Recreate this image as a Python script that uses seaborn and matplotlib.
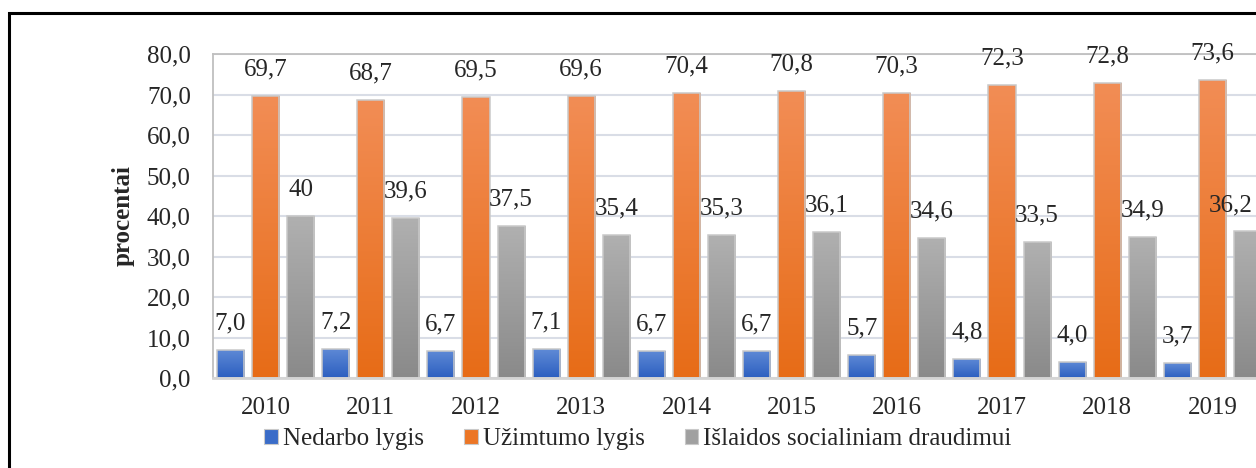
import numpy as np
import pandas as pd
import seaborn as sns
import matplotlib.pyplot as plt
from matplotlib.patches import Patch, Rectangle
from matplotlib.colors import LinearSegmentedColormap

# Data
years = ['2010', '2011', '2012', '2013', '2014', '2015', '2016', '2017', '2018', '2019']
nedarbo = [7.0, 7.2, 6.7, 7.1, 6.7, 6.7, 5.7, 4.8, 4.0, 3.7]
uzimtumo = [69.7, 68.7, 69.5, 69.6, 70.4, 70.8, 70.3, 72.3, 72.8, 73.6]
islaidos = [40, 39.6, 37.5, 35.4, 35.3, 36.1, 34.6, 33.5, 34.9, 36.2]
series = ['Nedarbo lygis', 'Užimtumo lygis', 'Išlaidos socialiniam draudimui']

df = pd.DataFrame({'Metai': years * 3,
                   'Reikšmė': nedarbo + uzimtumo + islaidos,
                   'Rodiklis': [s for s in series for _ in years]})

sns.set_style("white")
plt.rcParams['font.family'] = ['Liberation Serif', 'DejaVu Serif']

# gradient (top, bottom) and legend colours per series
grads = [('#5f8ad6', '#2c5fc0'), ('#f28d55', '#e76c17'), ('#b0b0b0', '#8a8a8a')]
solid = ['#3a6cc8', '#ec7626', '#a0a0a0']
fs = 18

fig = plt.figure(figsize=(12.56, 4.68), dpi=100)
ax = fig.add_axes([213 / 1256, 90 / 468, (1265 - 213) / 1256, 324 / 468])

sns.barplot(data=df, x='Metai', y='Reikšmė', hue='Rodiklis', hue_order=series,
            palette=solid, width=1.0, gap=0.23, legend=False, ax=ax,
            edgecolor='#c9c9c9', linewidth=1.1, zorder=2)

ax.set_xlim(-0.5, 9.5)
ax.set_ylim(0, 80)
ax.set_yticks(np.arange(0, 81, 10))
ax.set_yticklabels([f'{v:.1f}'.replace('.', ',') for v in np.arange(0, 81, 10)])
ax.set_xticks(range(len(years)))
ax.set_xticklabels(years)
ax.tick_params(axis='both', labelsize=fs, length=0)
ax.tick_params(axis='y', pad=16)
ax.tick_params(axis='x', pad=14)
ax.set_xlabel('')
ax.set_ylabel('procentai', fontsize=fs, fontweight='bold', labelpad=9)

ax.set_axisbelow(True)
ax.yaxis.grid(True, color='#d9dde6', linewidth=1.5, zorder=0)
for side in ['top', 'left']:
    ax.spines[side].set_color('#bfbfbf')
    ax.spines[side].set_linewidth(1.3)
ax.spines['bottom'].set_color('#d4d4d4')
ax.spines['bottom'].set_linewidth(2)
ax.spines['right'].set_visible(False)

# gradient fill + data labels
bars = ax.patches
n = len(years)
labels = []
for i, bar in enumerate(bars):
    k = i // n
    top_c, bot_c = grads[k]
    cmap = LinearSegmentedColormap.from_list(f'g{k}', [bot_c, top_c])
    x0, y0 = bar.get_x(), bar.get_y()
    w, h = bar.get_width(), bar.get_height()
    img = ax.imshow(np.linspace(0, 1, 100).reshape(-1, 1), cmap=cmap, origin='lower',
                    extent=[x0, x0 + w, y0, y0 + h], aspect='auto', zorder=2)
    img.set_clip_path(bar)
    bar.set_facecolor('none')
    bar.set_zorder(2.1)
    txt = f'{h:g}'.replace('.', ',') if k == 2 else f'{h:.1f}'.replace('.', ',')
    labels.append(ax.annotate(txt, xy=(x0 + w / 2, h), xytext=(0, 19),
                              textcoords='offset points', ha='center', va='center',
                              fontsize=fs, zorder=3))

ax.set_xlim(-0.5, 9.5)
ax.set_ylim(0, 80)

# keep labels inside the visible chart area (Excel pushes them in)
fig.canvas.draw()
renderer = fig.canvas.get_renderer()
fig_w = fig.bbox.width
for t in labels:
    bb = t.get_window_extent(renderer)
    if bb.x1 > fig_w - 3:
        shift = (bb.x1 - (fig_w - 3)) * 72 / fig.dpi
        t.set_position((-shift, 19))

handles = [Patch(facecolor=c, edgecolor='#c9c9c9', linewidth=0.8) for c in solid]
fig.legend(handles, series, loc='center', bbox_to_anchor=(638 / 1256, 29 / 468), ncol=3,
           frameon=False, fontsize=fs, handlelength=0.55, handleheight=0.55,
           handletextpad=0.2, columnspacing=1.6)

# outer black frame (cropped on the right and bottom)
fig.patches.append(Rectangle((9 / 1256, -0.2), 1.2, 1.2 - 13 / 468,
                             transform=fig.transFigure, fill=False,
                             edgecolor='black', linewidth=2.2))

fig.savefig('out.png', dpi=100)
